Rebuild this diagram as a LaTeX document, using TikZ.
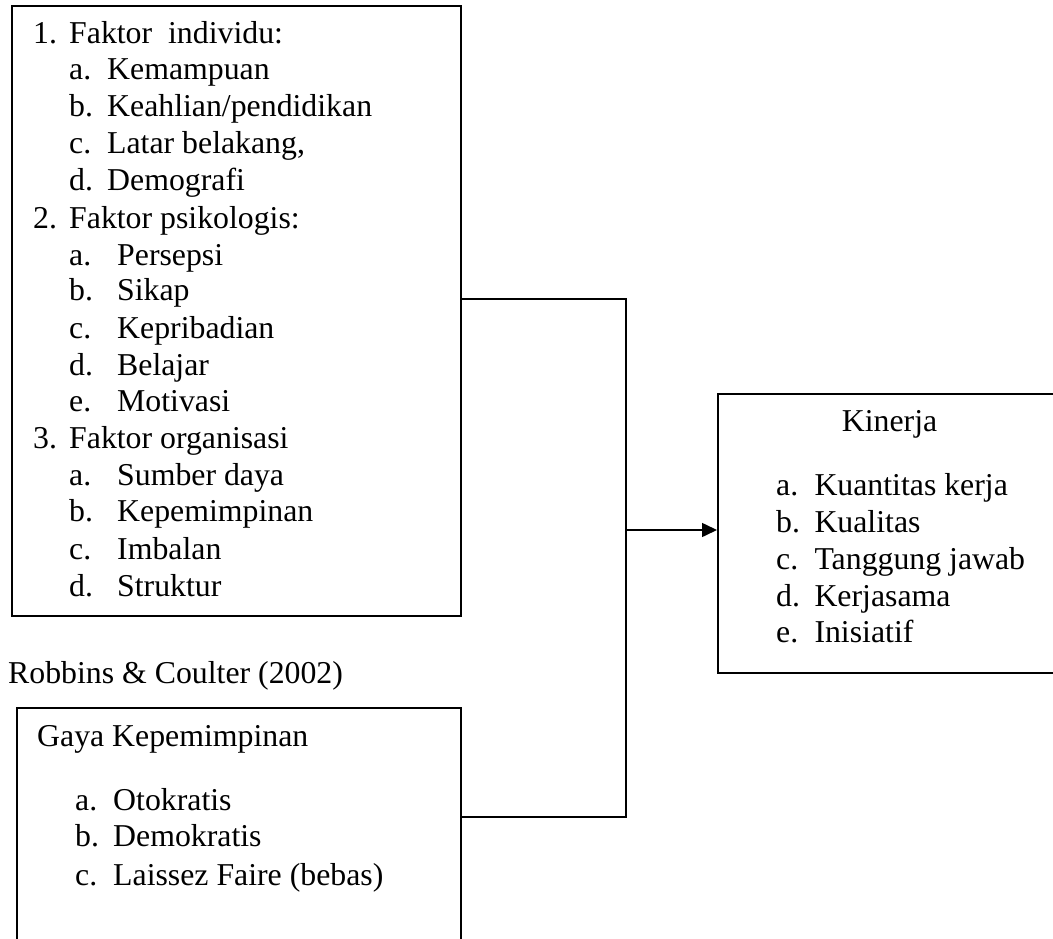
\documentclass[tikz,border=0pt]{standalone}
\usepackage{fontspec}
\setmainfont{Liberation Serif}
\usetikzlibrary{arrows.meta}
\begin{document}
\begin{tikzpicture}[x=1pt,y=-1pt,
  boxline/.style={draw=black,line width=1.6pt},
  txt/.style={anchor=base west,inner sep=0pt,font=\fontsize{31.8}{36}\selectfont},
  conn/.style={draw=black,line width=1.6pt}]
\useasboundingbox (0,0) rectangle (1053,939);
\clip (0,0) rectangle (1053,939);
% boxes
\node[boxline,anchor=north west,minimum width=449pt,minimum height=610pt,inner sep=0pt] (f) at (11,5) {};
\node[boxline,anchor=north west,minimum width=344pt,minimum height=279pt,inner sep=0pt] (k) at (717,393) {};
\node[boxline,anchor=north west,minimum width=444pt,minimum height=245pt,inner sep=0pt] (g) at (16,707) {};
% box 1 text
\node[txt] (t1) at (33,43.3) {1.};
\node[txt] (t1b) at (69,43.3) {Faktor\ \ individu:};
\node[txt] (t1a) at (69,80) {a.};   \node[txt] at (107,80) {Kemampuan};
\node[txt] (t1c) at (69,116.7) {b.}; \node[txt] at (107,116.7) {Keahlian/pendidikan};
\node[txt] (t1d) at (69,154) {c.};  \node[txt] at (107,154) {Latar belakang,};
\node[txt] (t1e) at (69,190.7) {d.}; \node[txt] at (107,190.7) {Demografi};
\node[txt] (t2) at (33,228.3) {2.};
\node[txt] at (69,228.3) {Faktor psikologis:};
\node[txt] at (69,265) {a.};   \node[txt] at (117,265) {Persepsi};
\node[txt] at (69,300) {b.};   \node[txt] at (117,300) {Sikap};
\node[txt] at (69,338.3) {c.}; \node[txt] at (117,338.3) {Kepribadian};
\node[txt] at (69,375) {d.};   \node[txt] at (117,375) {Belajar};
\node[txt] at (69,411.7) {e.}; \node[txt] at (117,411.7) {Motivasi};
\node[txt] (t3) at (33,448.3) {3.};
\node[txt] at (69,448.3) {Faktor organisasi};
\node[txt] at (69,485) {a.};   \node[txt] at (117,485) {Sumber daya};
\node[txt] at (69,521.7) {b.}; \node[txt] at (117,521.7) {Kepemimpinan};
\node[txt] at (69,559.3) {c.}; \node[txt] at (117,559.3) {Imbalan};
\node[txt] at (69,596) {d.};   \node[txt] at (117,596) {Struktur};
% citation
\node[txt] (cite) at (8,683.3) {Robbins \& Coulter (2002)};
% Kinerja text
\node[txt] (kt) at (841.7,431.7) {Kinerja};
\node[txt] at (776,495) {a.};   \node[txt] at (814.3,495) {Kuantitas kerja};
\node[txt] at (776,532.7) {b.}; \node[txt] at (814.3,532.7) {Kualitas};
\node[txt] at (776,569.3) {c.}; \node[txt] at (814.3,569.3) {Tanggung jawab};
\node[txt] at (776,606) {d.};   \node[txt] at (814.3,606) {Kerjasama};
\node[txt] at (776,642.7) {e.}; \node[txt] at (814.3,642.7) {Inisiatif};
% Gaya text
\node[txt] (gt) at (37,746.7) {Gaya Kepemimpinan};
\node[txt] at (75,810) {a.};   \node[txt] at (113,810) {Otokratis};
\node[txt] at (75,846.7) {b.}; \node[txt] at (113,846.7) {Demokratis};
\node[txt] at (75,885) {c.};   \node[txt] at (113,885) {Laissez Faire (bebas)};
% connectors
\coordinate (j1) at (626,299);
\coordinate (j2) at (626,817);
\coordinate (jm) at (626,530);
\draw[conn] (f.east |- j1) -- (j1) -- (j2) -- (g.east |- j2);
\draw[conn,-{Triangle[length=15pt,width=14pt]}] (jm) -- (k.west |- jm);
\end{tikzpicture}
\end{document}
